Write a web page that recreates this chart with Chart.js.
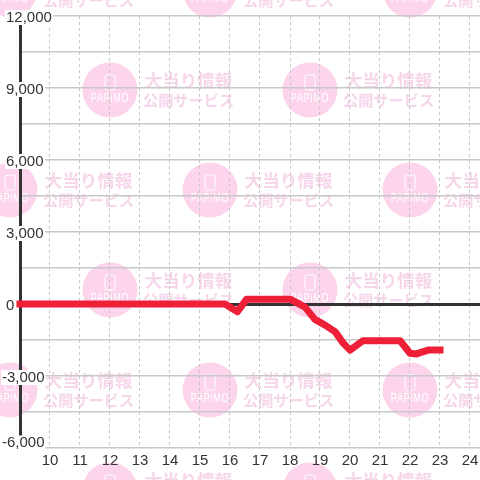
<!DOCTYPE html>
<html>
<head>
<meta charset="utf-8">
<style>html,body{margin:0;padding:0;background:#fff}canvas{display:block}</style>
<script src="https://cdn.jsdelivr.net/npm/chart.js@4"></script>
</head>
<body>
<div style="width:480px;height:480px"><canvas id="c" width="480" height="480"></canvas></div>
<script>
const hours = [9, 15.83, 16.25, 16.55, 18, 18.5, 18.83, 19.22, 19.5, 19.78, 20, 20.43, 21.67, 22, 22.22, 22.6, 23];
const values = [0, 0, -320, 195, 200, -130, -640, -920, -1150, -1640, -1920, -1530, -1530, -2050, -2080, -1920, -1920];
const mainLabels = [12000, 9000, 6000, 3000, 0];
const negLabel = [-3000];
const bottomLabel = [-6000];
const wmLine1 = '大当り情報';
const wmLine2 = '公開サービス';
const wmBrand = 'PAPiMO';
const wmColumns = [[10,210,410],[110,310]];
const wmRows = [-10,90,190,290,390,490];

const watermark = {
  id: 'watermark',
  beforeDraw(chart) {
    const c = chart.ctx;
    c.save();
    c.fillStyle = '#ffffff';
    c.fillRect(0, 0, 480, 480);
    wmRows.forEach((y, r) => wmColumns[r % 2].forEach(x => {
      c.fillStyle = '#fcd4ec';
      c.beginPath(); c.arc(x, y, 27.5, 0, Math.PI * 2); c.fill();
      c.strokeStyle = '#fff'; c.lineWidth = 1;
      c.beginPath(); c.roundRect(x - 5, y - 15, 10, 15, 1.5); c.stroke();
      c.fillStyle = '#fff';
      c.textAlign = 'center'; c.textBaseline = 'middle';
      c.save();
      c.translate(x, y + 9);
      c.scale(0.75, 1);
      c.font = '12px "Liberation Sans"';
      c.letterSpacing = '1px';
      c.fillText(wmBrand, 0, 0);
      c.restore();
      c.fillStyle = '#f6d6ea';
      c.font = 'bold 17.5px "Noto Sans CJK JP"';
      c.fillText(wmLine1, x + 78.5, y - 10);
      c.font = 'bold 15.2px "Noto Sans CJK JP"';
      c.fillText(wmLine2, x + 78.5, y + 10);
    }));
    c.restore();
  }
};

const font = { family: '"Liberation Sans"', size: 15, lineHeight: 1 };
const zeroWidth = s => { s.width = 0; };
const PX = 18000 / 432;
const labelAxis = (shiftUp, vals, pad) => ({
  position: 'left', min: -6000 - shiftUp * PX, max: 12000 - shiftUp * PX,
  afterFit: zeroWidth,
  afterBuildTicks: s => { s.ticks = vals.map(v => ({ value: v })); },
  grid: { display: false, drawTicks: false },
  border: { display: false },
  ticks: {
    mirror: true, padding: pad, z: 1, color: '#333', font, autoSkip: false,
    showLabelBackdrop: true, backdropColor: '#fff', backdropPadding: { x: 1, y: 0 },
    callback: v => v.toLocaleString('en-US')
  }
});

new Chart(document.getElementById('c'), {
  type: 'line',
  data: { datasets: [{
    data: hours.map((h, i) => ({ x: h, y: values[i] })),
    borderColor: '#ee2038', borderWidth: 7, pointRadius: 0,
    borderCapStyle: 'square', borderJoinStyle: 'round', tension: 0, clip: false
  }] },
  options: {
    responsive: false, animation: false,
    layout: { padding: { left: 20, top: 16, right: 0, bottom: 0 } },
    plugins: { legend: { display: false }, tooltip: { enabled: false } },
    scales: {
      x: {
        type: 'linear', min: 9, max: 9 + 460 / 30,
        afterFit: s => { s.height = 32; s.paddingRight = 0; s.paddingLeft = 0; },
        grid: { color: '#c8c8c8', lineWidth: 1, drawTicks: false },
        border: { display: false, dash: [3, 3] },
        ticks: {
          stepSize: 1, includeBounds: false, autoSkip: false, maxRotation: 0,
          padding: 4, color: '#333', font: { family: '"Liberation Sans"', size: 15 },
          callback: v => v >= 10 ? String(v) : ''
        }
      },
      y: {
        position: 'left', min: -6000, max: 12000,
        afterFit: zeroWidth,
        grid: {
          color: c => c.tick && c.tick.value === 0 ? '#333' : '#c8c8c8',
          lineWidth: c => c.tick && c.tick.value === 0 ? 3 : 1.5,
          drawTicks: false
        },
        border: { display: true, color: '#333', width: 3 },
        ticks: { stepSize: 1500, display: false, autoSkip: false }
      },
      yMain: labelAxis(-1.5, mainLabels, -14),
      yNeg: labelAxis(-1.5, negLabel, -18),
      yBottom: labelAxis(5, bottomLabel, -18)
    }
  },
  plugins: [watermark]
});
</script>
</body>
</html>
